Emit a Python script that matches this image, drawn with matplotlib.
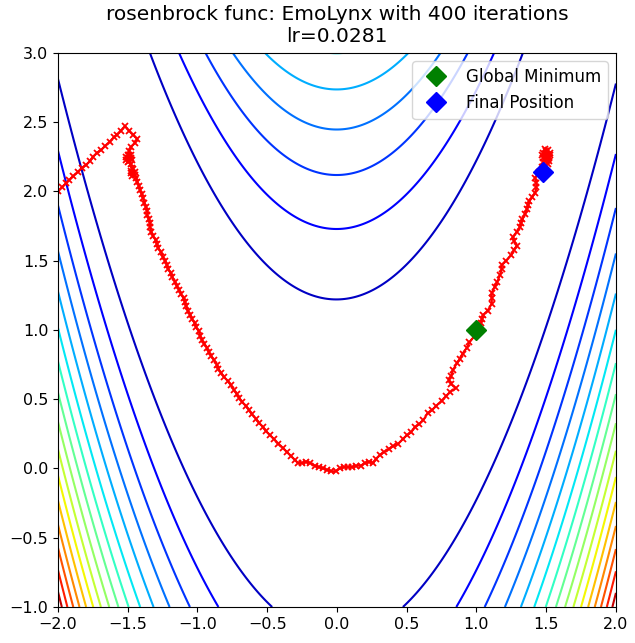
import numpy as np
import matplotlib
matplotlib.use("Agg")
import matplotlib.pyplot as plt

optimizer_name = "EmoLynx"
n_iter = 400
lr = 0.0281
minimum = (1.0, 1.0)
levels = [0, 150, 300, 450, 600, 750, 900, 1050, 1200, 1350, 1500,
          1650, 1800, 1950, 2100, 2250, 2400, 2550]

# optimizer trajectory
path = [
    (-2.00, 2.00), (-1.97, 2.03), (-1.94, 2.06), (-1.92, 2.08), (-1.89, 2.11),
    (-1.86, 2.14), (-1.83, 2.17), (-1.80, 2.19), (-1.77, 2.22), (-1.75, 2.25),
    (-1.72, 2.28), (-1.69, 2.30), (-1.66, 2.33), (-1.63, 2.36), (-1.60, 2.39),
    (-1.58, 2.41), (-1.55, 2.44), (-1.52, 2.47),
    (-1.49, 2.44), (-1.46, 2.41), (-1.43, 2.38), (-1.45, 2.35), (-1.48, 2.32),
    (-1.49, 2.29), (-1.50, 2.26),
    (-1.48, 2.24), (-1.51, 2.23), (-1.49, 2.26), (-1.50, 2.21), (-1.47, 2.23),
    (-1.51, 2.25), (-1.49, 2.22), (-1.48, 2.26), (-1.50, 2.24), (-1.48, 2.20),
    (-1.47, 2.17), (-1.45, 2.14), (-1.48, 2.13), (-1.46, 2.16), (-1.47, 2.11),
    (-1.45, 2.12), (-1.48, 2.15), (-1.46, 2.13),
    (-1.44, 2.10), (-1.43, 2.07), (-1.42, 2.04), (-1.41, 2.01), (-1.40, 1.98),
    (-1.39, 1.95), (-1.38, 1.92), (-1.37, 1.89), (-1.36, 1.86), (-1.36, 1.83),
    (-1.35, 1.80), (-1.34, 1.77), (-1.34, 1.74), (-1.33, 1.71), (-1.32, 1.68),
    (-1.30, 1.65), (-1.29, 1.62), (-1.28, 1.59), (-1.26, 1.56), (-1.25, 1.53),
    (-1.23, 1.50), (-1.22, 1.47), (-1.21, 1.44), (-1.19, 1.41), (-1.18, 1.38),
    (-1.16, 1.35), (-1.15, 1.32), (-1.13, 1.29), (-1.12, 1.26), (-1.10, 1.23),
    (-1.09, 1.20), (-1.08, 1.17), (-1.07, 1.14), (-1.05, 1.11), (-1.04, 1.08),
    (-1.02, 1.05), (-1.01, 1.02), (-0.99, 0.99), (-0.98, 0.96), (-0.97, 0.93),
    (-0.95, 0.90), (-0.93, 0.87), (-0.92, 0.84), (-0.90, 0.81), (-0.88, 0.78),
    (-0.86, 0.75), (-0.85, 0.72), (-0.83, 0.69), (-0.81, 0.66), (-0.78, 0.63),
    (-0.76, 0.60), (-0.74, 0.57), (-0.72, 0.54), (-0.70, 0.51), (-0.68, 0.48),
    (-0.65, 0.45), (-0.63, 0.42), (-0.61, 0.39), (-0.58, 0.36), (-0.56, 0.33),
    (-0.53, 0.30), (-0.51, 0.27), (-0.48, 0.24), (-0.45, 0.21), (-0.42, 0.18),
    (-0.39, 0.15), (-0.36, 0.12), (-0.33, 0.09), (-0.30, 0.06), (-0.28, 0.04),
    (-0.25, 0.04), (-0.22, 0.05), (-0.19, 0.04), (-0.16, 0.02), (-0.13, 0.01),
    (-0.10, 0.00), (-0.07, -0.01), (-0.04, -0.02), (-0.01, -0.02), (0.02, 0.00),
    (0.05, 0.01), (0.08, 0.01), (0.11, 0.01), (0.14, 0.02), (0.17, 0.02),
    (0.20, 0.04), (0.23, 0.05), (0.26, 0.04), (0.28, 0.07), (0.31, 0.10),
    (0.34, 0.12), (0.37, 0.14), (0.40, 0.16), (0.44, 0.18), (0.47, 0.21),
    (0.50, 0.24), (0.53, 0.26), (0.56, 0.30), (0.59, 0.32), (0.62, 0.35),
    (0.65, 0.40), (0.68, 0.42), (0.71, 0.45), (0.75, 0.49), (0.78, 0.52),
    (0.81, 0.55), (0.85, 0.58), (0.82, 0.61), (0.80, 0.64), (0.82, 0.67),
    (0.83, 0.71), (0.86, 0.76), (0.88, 0.79), (0.90, 0.83), (0.93, 0.87),
    (0.95, 0.91), (0.98, 0.95), (1.00, 0.99), (1.02, 1.02), (1.03, 1.05),
    (1.04, 1.08), (1.05, 1.11), (1.08, 1.14), (1.11, 1.19), (1.11, 1.23),
    (1.11, 1.27), (1.13, 1.31), (1.15, 1.35), (1.17, 1.40), (1.18, 1.44),
    (1.18, 1.47), (1.21, 1.50), (1.25, 1.54), (1.27, 1.58), (1.29, 1.61),
    (1.27, 1.64), (1.26, 1.67), (1.29, 1.71), (1.31, 1.74), (1.32, 1.77),
    (1.33, 1.80), (1.35, 1.84), (1.36, 1.87), (1.37, 1.90), (1.38, 1.93),
    (1.40, 1.96), (1.42, 1.99), (1.43, 2.03), (1.43, 2.06), (1.42, 2.10),
    (1.45, 2.14), (1.47, 2.18), (1.48, 2.21), (1.49, 2.24),
    (1.50, 2.27), (1.52, 2.25), (1.48, 2.28), (1.51, 2.30), (1.50, 2.22),
    (1.53, 2.26), (1.49, 2.31), (1.48, 2.24), (1.52, 2.22), (1.50, 2.29),
    (1.47, 2.26), (1.53, 2.28), (1.51, 2.20), (1.49, 2.27), (1.52, 2.24),
    (1.48, 2.14),
]


def rosenbrock(x, y):
    return (1 - x) ** 2 + 100 * (y - x ** 2) ** 2


x = np.linspace(-2, 2, 250)
y = np.linspace(-1, 3, 250)
X, Y = np.meshgrid(x, y)
Z = rosenbrock(X, Y)

iter_x, iter_y = np.array(path).T

fig = plt.figure(figsize=(6.35, 6.43), dpi=100)
ax = fig.add_axes([0.0913, 0.056, 0.8787, 0.8616])
ax.contour(X, Y, Z, levels=levels, cmap="jet")
ax.plot(iter_x, iter_y, color="r", marker="x", markersize=5, markeredgewidth=1.3)
ax.plot(*minimum, "gD", markersize=10, label="Global Minimum")
ax.plot(iter_x[-1], iter_y[-1], "bD", markersize=10, label="Final Position")
ax.set_xlim(-2, 2)
ax.set_ylim(-1, 3)
ax.tick_params(labelsize=11.5)
ax.legend(loc="upper right", fontsize=12)
ax.set_title(f"rosenbrock func: {optimizer_name} with {n_iter} iterations\nlr={lr:.4f}",
             fontsize=14.5, linespacing=1.18, pad=8)

fig.savefig("out.png", dpi=100, facecolor="white")
